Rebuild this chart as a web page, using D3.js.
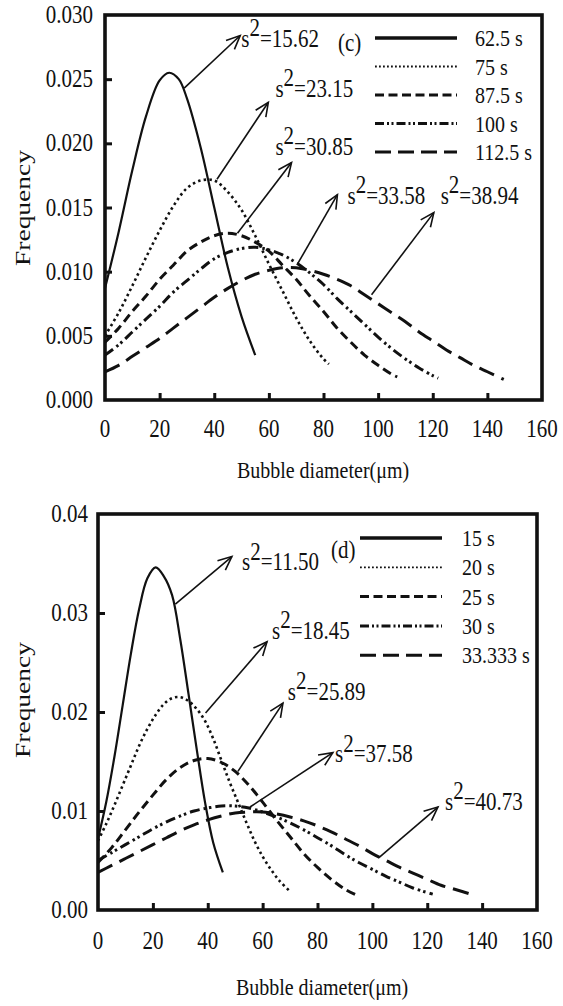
<!DOCTYPE html>
<html><head><meta charset="utf-8">
<script src="https://cdn.jsdelivr.net/npm/d3@7"></script>
<style>body{margin:0;background:#fff}</style>
</head><body><svg id="c" width="563" height="1006"></svg>
<script>
// ---------- data ----------
const xTicks=[0,20,40,60,80,100,120,140,160];
const topYTicks=[0,0.005,0.01,0.015,0.02,0.025,0.03];
const topYLabels=["0.000","0.005","0.010","0.015","0.020","0.025","0.030"];
const botYTicks=[0,0.01,0.02,0.03,0.04];
const botYLabels=["0.00","0.01","0.02","0.03","0.04"];
const topNames=["62.5 s","75 s","87.5 s","100 s","112.5 s"];
const botNames=["15 s","20 s","25 s","30 s","33.333 s"];
const xTitle="Bubble diameter(μm)";
const yTitle="Frequency";

const top_62_5=[[0,0.0087],[5,0.0131],[10,0.0179],[15,0.0221],[20,0.0249],[23.5,0.0255],[27,0.0250],[30,0.0235],[35,0.0197],[40,0.0150],[45,0.0103],[50,0.0065],[55,0.0035]];
const top_75=[[0,0.0050],[5,0.0068],[10,0.0089],[15,0.0111],[20,0.0132],[25,0.0151],[30,0.0165],[35,0.0171],[40,0.0171],[45,0.0162],[50,0.0148],[55,0.0128],[60,0.0106],[65,0.0085],[70,0.0064],[75,0.0046],[80,0.0032],[82,0.0028]];
const top_87_5=[[0,0.0045],[5,0.0056],[10,0.0069],[15,0.0081],[20,0.0094],[25,0.0105],[30,0.0116],[35,0.0123],[40,0.0128],[45,0.0130],[50,0.0128],[55,0.0123],[60,0.0116],[65,0.0105],[70,0.0094],[75,0.0081],[80,0.0069],[85,0.0056],[90,0.0045],[95,0.0035],[100,0.0027],[105,0.0020],[107,0.0018]];
const top_100=[[0,0.0035],[5,0.0043],[10,0.0053],[15,0.0063],[20,0.0073],[25,0.0084],[30,0.0093],[35,0.0102],[40,0.0110],[45,0.0115],[50,0.0118],[55,0.0119],[60,0.0117],[65,0.0113],[70,0.0107],[75,0.0099],[80,0.0090],[85,0.0079],[90,0.0069],[95,0.0059],[100,0.0049],[105,0.0040],[110,0.0032],[115,0.0025],[120,0.0019],[122,0.0017]];
const top_112_5=[[0,0.0022],[5,0.0027],[10,0.0034],[15,0.0041],[20,0.0048],[25,0.0056],[30,0.0064],[35,0.0072],[40,0.0080],[45,0.0087],[50,0.0093],[55,0.0098],[60,0.0101],[65,0.0103],[70,0.0103],[75,0.0101],[80,0.0098],[85,0.0094],[90,0.0089],[95,0.0082],[100,0.0075],[105,0.0068],[110,0.0061],[115,0.0053],[120,0.0046],[125,0.0039],[130,0.0033],[135,0.0027],[140,0.0022],[146,0.0016]];

const bot_15=[[0,0.0072],[3,0.0109],[6,0.0155],[9,0.0207],[12,0.0259],[15,0.0304],[18,0.0335],[21,0.0346],[24,0.0337],[27,0.0318],[30,0.0273],[33,0.0218],[36,0.0162],[39,0.0109],[42,0.0068],[45.5,0.0038]];
const bot_20=[[0,0.0070],[3,0.0087],[6,0.0106],[9,0.0126],[12,0.0146],[15,0.0166],[18,0.0183],[21,0.0197],[24,0.0208],[27,0.0214],[30,0.0215],[33,0.0211],[36,0.0203],[39,0.0191],[42,0.0173],[45,0.0151],[48,0.0129],[51,0.0109],[54,0.0089],[57,0.0070],[60,0.0054],[63,0.0041],[66,0.0030],[69.5,0.0020]];
const bot_25=[[0,0.0048],[5,0.0063],[10,0.0081],[15,0.0099],[20,0.0116],[25,0.0132],[30,0.0144],[35,0.0151],[40,0.0153],[45,0.0149],[50,0.0140],[55,0.0126],[60,0.0109],[65,0.0091],[70,0.0074],[75,0.0057],[80,0.0043],[85,0.0031],[90,0.0021],[95,0.0014]];
const bot_30=[[0,0.0050],[5,0.0058],[10,0.0066],[15,0.0074],[20,0.0082],[25,0.0089],[30,0.0095],[35,0.0100],[40,0.0103],[45,0.0105],[50,0.0105],[55,0.0103],[60,0.0099],[65,0.0094],[70,0.0088],[75,0.0081],[80,0.0073],[85,0.0065],[90,0.0056],[95,0.0048],[100,0.0041],[105,0.0034],[110,0.0028],[115,0.0022],[122,0.0016]];
const bot_33=[[0,0.0038],[5,0.0045],[10,0.0052],[15,0.0059],[20,0.0066],[25,0.0073],[30,0.0080],[35,0.0086],[40,0.0091],[45,0.0095],[50,0.0098],[55,0.0099],[60,0.0099],[65,0.0097],[70,0.0094],[75,0.0090],[80,0.0085],[85,0.0079],[90,0.0072],[95,0.0065],[100,0.0057],[105,0.0050],[110,0.0043],[115,0.0037],[120,0.0031],[125,0.0025],[130,0.0021],[137,0.0015]];

// annotations: variance values, arrow tail & head (data units), label anchor (data units)
const topNotes=["15.62","23.15","30.85","33.58","38.94"];
const topArrowFrom=[[29,0.0243],[41,0.0172],[48.5,0.0130],[70.5,0.0106],[97.6,0.0082]];
const topArrowTo=[[49.5,0.0284],[59.8,0.0232],[68.3,0.0185],[85.1,0.0160],[120.4,0.0146]];
const topNoteAt=[[49.9,0.0275],[62.4,0.0236],[62.4,0.0191],[88.8,0.0153],[122.9,0.0153]];
const botNotes=["11.50","18.45","25.89","37.58","40.73"];
const botArrowFrom=[[28.2,0.0309],[39.2,0.0199],[51,0.0140],[55.4,0.0104],[102.4,0.0053]];
const botArrowTo=[[48.8,0.0357],[61.6,0.0271],[67.4,0.0209],[85.6,0.0159],[123.9,0.0104]];
const botNoteAt=[[52.5,0.0343],[63.4,0.0274],[69.2,0.0212],[86.4,0.0149],[126.5,0.0101]];

// ---------- drawing ----------
const FONT="'Liberation Serif', 'Times New Roman', serif";
const svg=d3.select("#c");
const SY=1.2;
const styles=[
  {dash:null,w:2.2,lw:3.6,ldash:null,cap:"butt"},
  {dash:"2.5,3.2",w:2.6,lw:1.8,ldash:"1.8,2.2",cap:"butt"},
  {dash:"9,5",w:3,lw:3,ldash:"9,4.5",cap:"butt"},
  {dash:"10,4,2.5,3,2.5,4",w:3,lw:3,ldash:"9,3,2,2.5,2,3",cap:"butt"},
  {dash:"16,8",w:3,lw:3,ldash:"16,7",cap:"butt"}
];

function txt(g,x,y,str,size,anchor){
  return g.append("text").attr("transform",`translate(${x},${y}) scale(1,${SY})`)
    .attr("font-family",FONT).attr("fill","#111")
    .attr("font-size",size).attr("text-anchor",anchor||"start").text(str);
}
function sNote(g,x,y,val){
  const t=g.append("text").attr("transform",`translate(${x},${y}) scale(1,${SY})`)
    .attr("font-family",FONT).attr("fill","#111").attr("font-size",21);
  t.append("tspan").text("s");
  t.append("tspan").attr("dy",-9).text("2");
  t.append("tspan").attr("dy",9).text("="+val);
}
function arrow(g,p1,p2){
  g.append("line").attr("x1",p1[0]).attr("y1",p1[1]).attr("x2",p2[0]).attr("y2",p2[1])
    .attr("stroke","#111").attr("stroke-width",1.6);
  const a=Math.atan2(p2[1]-p1[1],p2[0]-p1[0]), L=15, s=0.42;
  const q1=[p2[0]-L*Math.cos(a-s),p2[1]-L*Math.sin(a-s)];
  const q2=[p2[0]-L*Math.cos(a+s),p2[1]-L*Math.sin(a+s)];
  g.append("path").attr("d",`M${q1}L${p2}L${q2}`).attr("fill","none")
    .attr("stroke","#111").attr("stroke-width",1.6);
}

function chart(c){
  const g=svg.append("g");
  const x=d3.scaleLinear().domain([0,160]).range([c.x0,c.x1]);
  const y=d3.scaleLinear().domain([0,c.ymax]).range([c.y0,c.y1]);
  g.append("g").attr("transform",`translate(0,${c.y0})`)
    .call(d3.axisBottom(x).tickValues(xTicks.slice(1,-1)).tickSizeInner(-7).tickSizeOuter(0).tickFormat(""))
    .call(s=>s.select(".domain").remove())
    .selectAll("line").attr("stroke","#111").attr("stroke-width",3);
  g.append("g").attr("transform",`translate(${c.x0},0)`)
    .call(d3.axisLeft(y).tickValues(c.yTicks.slice(1,-1)).tickSizeInner(-7).tickSizeOuter(0).tickFormat(""))
    .call(s=>s.select(".domain").remove())
    .selectAll("line").attr("stroke","#111").attr("stroke-width",3);
  g.append("rect").attr("x",c.x0).attr("y",c.y1).attr("width",c.x1-c.x0).attr("height",c.y0-c.y1)
    .attr("fill","none").attr("stroke","#111").attr("stroke-width",3.6);
  xTicks.forEach(v=>txt(g,x(v),c.xlabY,String(v),21,"middle"));
  c.yTicks.forEach((v,i)=>txt(g,c.ylabX,y(v)+8,c.yLabels[i],21,"end"));
  txt(g,c.titleX,c.titleY,xTitle,20,"middle");
  g.append("text").attr("transform",`translate(30,${c.fy}) scale(1,1.25) rotate(-90)`)
    .attr("font-family",FONT).attr("fill","#111")
    .attr("font-size",22).attr("text-anchor","middle").text(yTitle);
  const line=d3.line().x(d=>x(d[0])).y(d=>y(d[1])).curve(d3.curveCatmullRom.alpha(0.5));
  c.series.forEach((s,i)=>{
    const st=styles[i];
    g.append("path").attr("d",line(s)).attr("fill","none").attr("stroke","#111")
      .attr("stroke-width",st.w).attr("stroke-dasharray",st.dash).attr("stroke-linecap",st.cap);
  });
  c.names.forEach((n,i)=>{
    const st=styles[i], yy=c.legY0+i*c.legDy;
    g.append("line").attr("x1",c.legX0).attr("x2",c.legX1).attr("y1",yy).attr("y2",yy)
      .attr("stroke","#111").attr("stroke-width",st.lw).attr("stroke-dasharray",st.ldash).attr("stroke-linecap",st.cap);
    txt(g,c.legTx,yy+8,n,20,"start");
  });
  txt(g,c.tagX,c.tagY,c.tag,21,"start");
  c.notes.forEach((v,i)=>{
    arrow(g,[x(c.from[i][0]),y(c.from[i][1])],[x(c.to[i][0]),y(c.to[i][1])]);
    sNote(g,x(c.at[i][0]),y(c.at[i][1]),v);
  });
}

chart({x0:105,x1:542,y0:400,y1:15,ymax:0.03,yTicks:topYTicks,yLabels:topYLabels,
  xlabY:437,ylabX:93,titleX:323,titleY:478,fy:208,
  series:[top_62_5,top_75,top_87_5,top_100,top_112_5],names:topNames,
  legX0:375,legX1:457,legTx:475,legY0:38,legDy:28.5,tag:"(c)",tagX:338,tagY:51,
  notes:topNotes,from:topArrowFrom,to:topArrowTo,at:topNoteAt});
chart({x0:98,x1:537,y0:910,y1:514,ymax:0.04,yTicks:botYTicks,yLabels:botYLabels,
  xlabY:949,ylabX:88,titleX:322,titleY:995,fy:700,
  series:[bot_15,bot_20,bot_25,bot_30,bot_33],names:botNames,
  legX0:360,legX1:442,legTx:462,legY0:538,legDy:29.3,tag:"(d)",tagX:331,tagY:558,
  notes:botNotes,from:botArrowFrom,to:botArrowTo,at:botNoteAt});
</script></body></html>
